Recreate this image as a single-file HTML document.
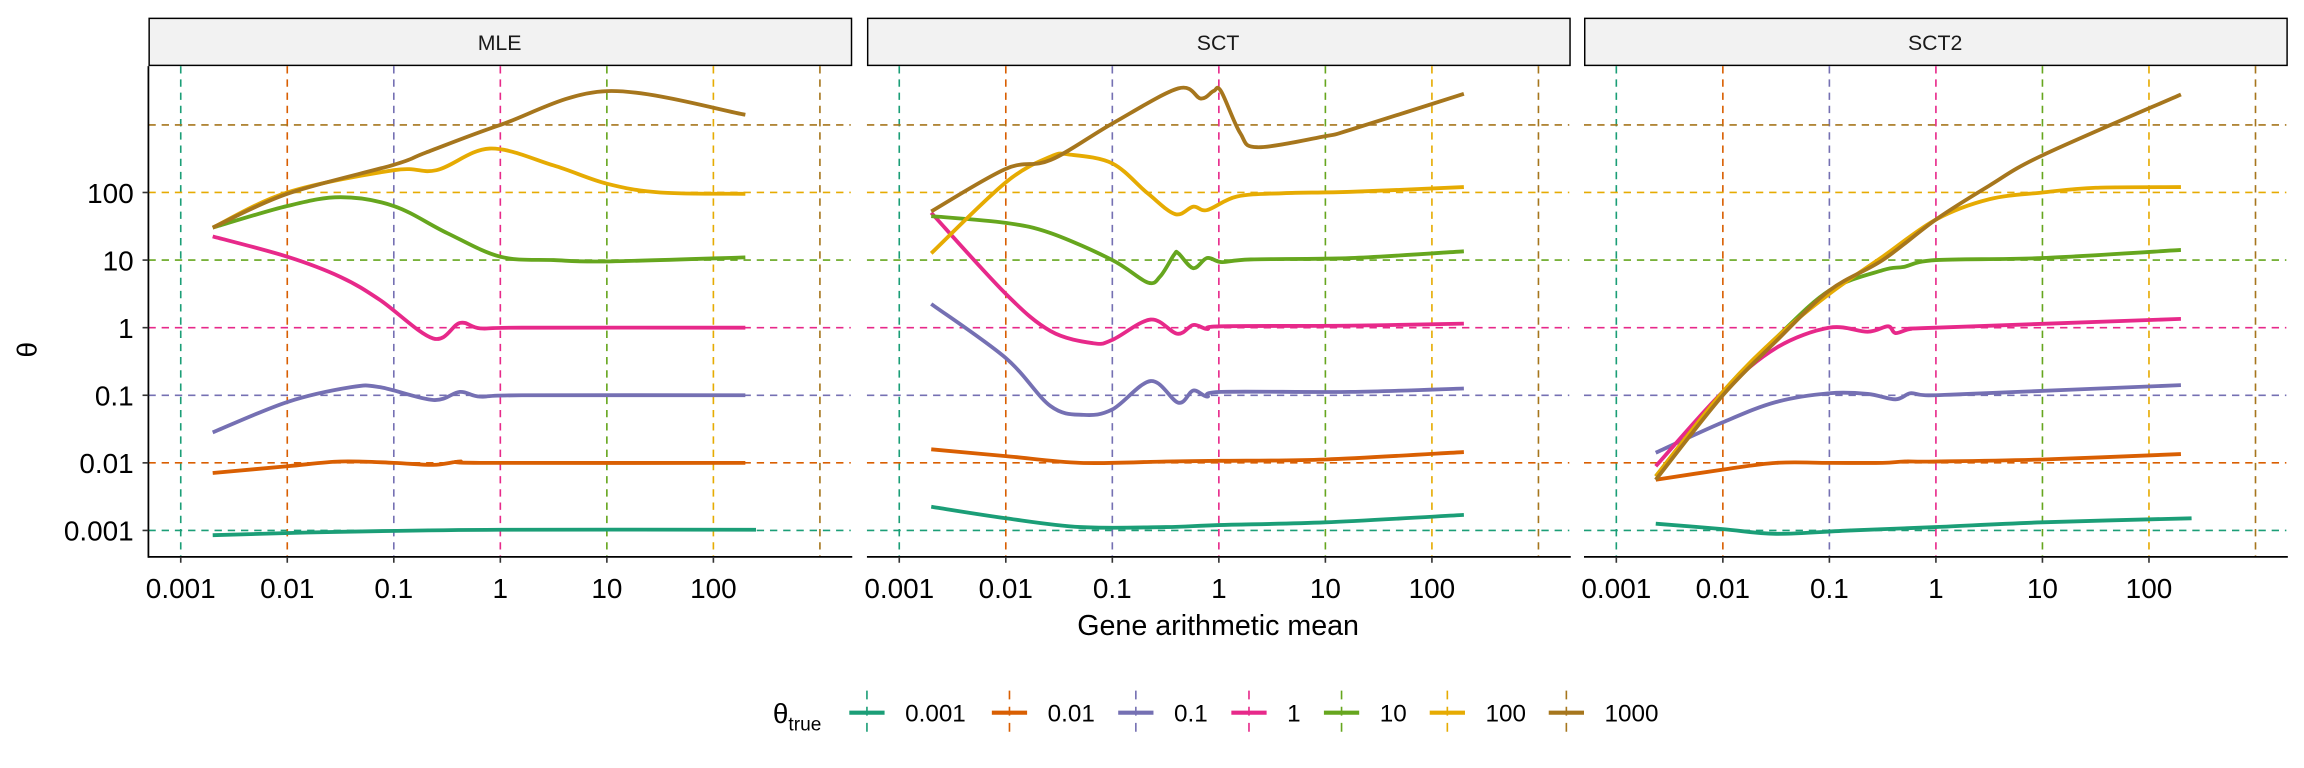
<!DOCTYPE html>
<html><head><meta charset="utf-8"><style>
html,body{margin:0;padding:0;background:#fff;}
svg{display:block;font-family:"Liberation Sans",sans-serif;}
</style></head><body>
<svg id="chart" width="2304" height="768" viewBox="0 0 1568 522.67" xmlns="http://www.w3.org/2000/svg"></svg>
<script>
// log10(mean), log10(theta) pairs per panel & series
const trueThetas = [0.001, 0.01, 0.1, 1, 10, 100, 1000];
const seriesLabels = ["0.001", "0.01", "0.1", "1", "10", "100", "1000"];
const colors = ["#1B9E77", "#D95F02", "#7570B3", "#E7298A", "#66A61E", "#E6AB02", "#A6761D"];
const panelNames = ["MLE", "SCT", "SCT2"];
const xTicks = [0.001, 0.01, 0.1, 1, 10, 100];
const xTickLabels = ["0.001", "0.01", "0.1", "1", "10", "100"];
const yTicks = [0.001, 0.01, 0.1, 1, 10, 100];
const yTickLabels = ["0.001", "0.01", "0.1", "1", "10", "100"];

const mle_0001 = [[-2.7,-3.07],[-1.5,-3.02],[0,-2.99],[2.4,-2.99]];
const mle_001 = [[-2.7,-2.15],[-2,-2.05],[-1.5,-1.98],[-1,-2.0],[-0.63,-2.03],[-0.38,-1.98],[-0.19,-2.0],[2.3,-2.0]];
const mle_01 = [[-2.7,-1.55],[-2,-1.1],[-1.4,-0.88],[-1.13,-0.88],[-0.63,-1.07],[-0.38,-0.95],[-0.19,-1.02],[0.2,-1.0],[2.3,-1.0]];
const mle_1 = [[-2.7,1.35],[-2,1.05],[-1.5,0.75],[-1.13,0.41],[-0.63,-0.16],[-0.38,0.07],[-0.19,-0.01],[0.2,0.0],[2.3,0.0]];
const mle_10 = [[-2.7,1.48],[-2,1.8],[-1.5,1.93],[-1,1.8],[-0.5,1.4],[0,1.05],[0.5,1.0],[1,0.98],[2.3,1.04]];
const mle_100 = [[-2.7,1.48],[-2,2.0],[-1,2.33],[-0.6,2.33],[-0.1,2.65],[0.5,2.4],[1,2.13],[1.5,2.0],[2.3,1.98]];
const mle_1000 = [[-2.7,1.48],[-2,1.98],[-1,2.41],[-0.7,2.59],[0,3.0],[1,3.5],[2.3,3.15]];

const sct_0001 = [[-2.7,-2.65],[-2,-2.82],[-1.3,-2.95],[-0.5,-2.95],[0,-2.92],[1,-2.88],[2.3,-2.77]];
const sct_001 = [[-2.7,-1.8],[-2,-1.9],[-1.3,-2.0],[-0.5,-1.98],[0,-1.97],[1,-1.95],[2.3,-1.84]];
const sct_01 = [[-2.7,0.35],[-2,-0.45],[-1.58,-1.16],[-1.27,-1.29],[-1,-1.21],[-0.64,-0.79],[-0.38,-1.11],[-0.24,-0.93],[-0.11,-1.02],[0.02,-0.95],[1.24,-0.95],[2.3,-0.9]];
const sct_1 = [[-2.7,1.7],[-2,0.5],[-1.58,-0.05],[-1.18,-0.23],[-1,-0.18],[-0.64,0.12],[-0.39,-0.09],[-0.24,0.04],[-0.11,-0.02],[0.02,0.02],[1.24,0.03],[2.3,0.06]];
const sct_10 = [[-2.7,1.65],[-2,1.55],[-1.58,1.4],[-1,1.0],[-0.67,0.67],[-0.55,0.76],[-0.42,1.08],[-0.38,1.1],[-0.24,0.88],[-0.11,1.03],[0.03,0.97],[0.3,1.01],[1.24,1.03],[2.3,1.13]];
const sct_100 = [[-2.7,1.1],[-2,2.15],[-1.58,2.53],[-1.4,2.56],[-1,2.43],[-0.67,1.99],[-0.41,1.68],[-0.24,1.79],[-0.11,1.74],[0.17,1.94],[0.61,1.99],[1.24,2.01],[2.3,2.08]];
const sct_1000 = [[-2.7,1.72],[-2,2.35],[-1.58,2.48],[-1,3.02],[-0.38,3.54],[-0.17,3.39],[-0.05,3.5],[0.02,3.5],[0.2,2.88],[0.36,2.67],[0.99,2.83],[1.24,2.93],[2.3,3.46]];

const sct2_0001 = [[-2.63,-2.9],[-2,-2.98],[-1.5,-3.05],[-0.8,-3.0],[0,-2.95],[1,-2.88],[2.4,-2.82]];
const sct2_001 = [[-2.63,-2.25],[-2,-2.1],[-1.5,-2.0],[-1,-2.0],[-0.5,-2.0],[-0.3,-1.98],[0,-1.98],[1,-1.95],[2.3,-1.87]];
const sct2_01 = [[-2.63,-1.85],[-2,-1.4],[-1.5,-1.1],[-1,-0.97],[-0.64,-0.98],[-0.38,-1.06],[-0.24,-0.97],[-0.1,-1.0],[0.3,-0.98],[2.3,-0.85]];
const sct2_1 = [[-2.63,-2.05],[-2,-0.95],[-1.5,-0.3],[-1,0.0],[-0.64,-0.06],[-0.45,0.02],[-0.38,-0.08],[-0.24,-0.02],[0,0.0],[2.3,0.13]];
const sct2_10 = [[-2.63,-2.2],[-2,-0.95],[-1.5,-0.15],[-1,0.55],[-0.5,0.85],[-0.3,0.9],[0,1.0],[1,1.03],[2.3,1.15]];
const sct2_100 = [[-2.63,-2.2],[-2,-0.95],[-1.5,-0.15],[-1,0.5],[-0.5,1.05],[0,1.6],[0.5,1.9],[1,2.0],[1.5,2.07],[2.3,2.08]];
const sct2_1000 = [[-2.63,-2.25],[-2,-1.0],[-1.5,-0.2],[-1,0.55],[-0.5,1.0],[0,1.6],[0.5,2.1],[1,2.55],[2.3,3.45]];

const panelSeries = [
  [mle_0001, mle_001, mle_01, mle_1, mle_10, mle_100, mle_1000],
  [sct_0001, sct_001, sct_01, sct_1, sct_10, sct_100, sct_1000],
  [sct2_0001, sct2_001, sct2_01, sct2_1, sct2_10, sct2_100, sct2_1000]
];

const NS = "http://www.w3.org/2000/svg";
const svg = document.getElementById("chart");
function mk(tag, attrs, parent) {
  const e = document.createElementNS(NS, tag);
  for (const k in attrs) e.setAttribute(k, attrs[k]);
  (parent || svg).appendChild(e);
  return e;
}
const panelLefts = [101, 590, 1078];
const panelW = 478;
const plotTop = 45, plotBottom = 379;
function xScale(p, lv) { return panelLefts[p] + 22 + (lv + 3) * 72.5; }
function yScale(lv) { return 223 - lv * 46; }
function smoothPath(pts) {
  let d = "M" + pts[0][0].toFixed(2) + "," + pts[0][1].toFixed(2);
  for (let i = 0; i < pts.length - 1; i++) {
    const p0 = pts[Math.max(0, i - 1)], p1 = pts[i], p2 = pts[i + 1], p3 = pts[Math.min(pts.length - 1, i + 2)];
    const c1x = p1[0] + (p2[0] - p0[0]) / 6, c1y = p1[1] + (p2[1] - p0[1]) / 6;
    const c2x = p2[0] - (p3[0] - p1[0]) / 6, c2y = p2[1] - (p3[1] - p1[1]) / 6;
    d += " C" + c1x.toFixed(2) + "," + c1y.toFixed(2) + " " + c2x.toFixed(2) + "," + c2y.toFixed(2) + " " + p2[0].toFixed(2) + "," + p2[1].toFixed(2);
  }
  return d;
}

for (let p = 0; p < 3; p++) {
  const g = mk("g", {});
  
  
  const L = panelLefts[p];
  const strip = mk("rect", {x: L + 0.5, y: 12.5, width: panelW, height: 32, fill: "#F2F2F2", stroke: "#000", "stroke-width": 1}, g);
  
  
  const st = mk("text", {x: L + panelW / 2, y: 34, "text-anchor": "middle", "font-size": 14.5, fill: "#1a1a1a"}, g);
  st.textContent = panelNames[p];
  
  
  const clipId = "clip" + p;
  const cp = mk("clipPath", {id: clipId}, g);
  mk("rect", {x: L, y: plotTop, width: panelW, height: plotBottom - plotTop}, cp);
  for (let s = 0; s < trueThetas.length; s++) {
    const lv = Math.log10(trueThetas[s]);
    const yy = yScale(lv);
    const hl = mk("line", {x1: L, x2: L + panelW, y1: yy, y2: yy, stroke: colors[s], "stroke-width": 1.1, "stroke-dasharray": "5,4"}, g);
    
    
    const xx = xScale(p, lv);
    const vl = mk("line", {x1: xx, x2: xx, y1: plotTop, y2: plotBottom, stroke: colors[s], "stroke-width": 1.1, "stroke-dasharray": "5,4"}, g);
    
    
  }
  for (let s = 0; s < panelSeries[p].length; s++) {
    const pts = panelSeries[p][s].map(d => [xScale(p, d[0]), yScale(d[1])]);
    const path = mk("path", {d: smoothPath(pts), fill: "none", stroke: colors[s], "stroke-width": 2.6, "stroke-linejoin": "round", "clip-path": "url(#" + clipId + ")"}, g);
    
    
  }
  const xa = mk("line", {x1: L, x2: L + panelW + 1, y1: plotBottom, y2: plotBottom, stroke: "#000", "stroke-width": 1.2}, g);
  
  
  for (let t = 0; t < xTicks.length; t++) {
    const xx = xScale(p, Math.log10(xTicks[t]));
    mk("line", {x1: xx, x2: xx, y1: plotBottom, y2: plotBottom + 4, stroke: "#333", "stroke-width": 1.1}, g);
    const tl = mk("text", {x: xx, y: plotBottom + 28, "text-anchor": "middle", "font-size": 19, fill: "#000"}, g);
    tl.textContent = xTickLabels[t];
    
    
  }
}
const ya = mk("line", {x1: 101, x2: 101, y1: plotTop, y2: plotBottom + 0.6, stroke: "#000", "stroke-width": 1.2});


for (let t = 0; t < yTicks.length; t++) {
  const yy = yScale(Math.log10(yTicks[t]));
  mk("line", {x1: 97, x2: 101, y1: yy, y2: yy, stroke: "#333", "stroke-width": 1.1});
  const tl = mk("text", {x: 91, y: yy + 7, "text-anchor": "end", "font-size": 19, fill: "#000"});
  tl.textContent = yTickLabels[t];
  
  
}
const xt = mk("text", {x: 829, y: 432, "text-anchor": "middle", "font-size": 19.5, fill: "#000"});
xt.textContent = "Gene arithmetic mean";


const ytt = mk("text", {x: 25, y: 238, "text-anchor": "middle", "font-size": 19, fill: "#000", transform: "rotate(-90 25 238)"});
ytt.textContent = "θ";



const lg = mk("g", {});


const lt = mk("text", {x: 526, y: 492, "font-size": 19, fill: "#000"}, lg);
lt.innerHTML = 'θ<tspan font-size="13" dy="5">true</tspan>';


const keyX = [590, 687, 773, 850, 913, 985, 1066];
for (let s = 0; s < seriesLabels.length; s++) {
  const kg = mk("g", {}, lg);
  
  
  const cx = keyX[s];
  mk("line", {x1: cx, x2: cx, y1: 470, y2: 501, stroke: colors[s], "stroke-width": 1.1, "stroke-dasharray": "6,5"}, kg);
  mk("line", {x1: cx - 12, x2: cx + 12, y1: 485, y2: 485, stroke: colors[s], "stroke-width": 2.8}, kg);
  const tx = mk("text", {x: cx + 26, y: 491, "font-size": 16.5, fill: "#000"}, kg);
  tx.textContent = seriesLabels[s];
}
</script>
</body></html>
